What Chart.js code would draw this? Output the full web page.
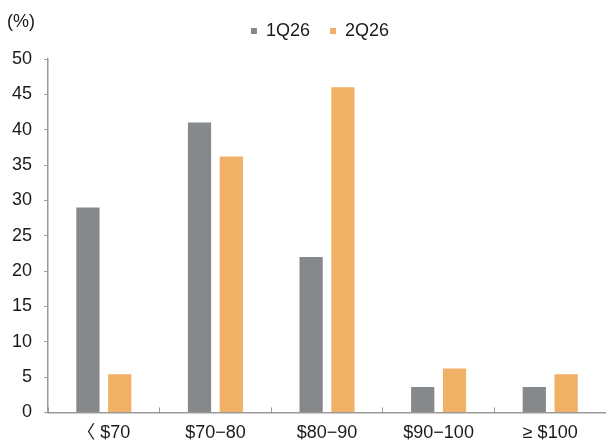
<!DOCTYPE html>
<html><head><meta charset="utf-8">
<script src="https://cdn.jsdelivr.net/npm/chart.js@4.4.1/dist/chart.umd.min.js"></script>
<style>
html,body{margin:0;padding:0;background:#fff;overflow:hidden;}
#wrap{position:relative;width:606px;height:459px;}
</style></head>
<body><div id="wrap"><canvas id="c"></canvas></div>
<script>
const categories = ["〈 $70", "$70−80", "$80−90", "$90−100", "≥ $100"];
const seriesNames = ["1Q26", "2Q26"];
const q1Values = [29, 41, 22, 3.6, 3.6];
const q2Values = [5.4, 36.2, 46, 6.2, 5.4];
const yTicks = [0, 5, 10, 15, 20, 25, 30, 35, 40, 45, 50];
const unitLabel = "(%)";

const FONT = "'Liberation Sans', 'Noto Sans CJK KR', sans-serif";
const GRAY = "#86898c";
const ORANGE = "#f0b166";
const AXIS = "#9a9a9a";
const TEXT = "#1a1a1a";

const unitPlugin = {
  id: 'unit',
  afterInit(chart) {
    const lg = chart.legend;
    if (lg) {
      const origFit = lg.fit;
      lg.fit = function () { origFit.call(this); this.height += 9; };
    }
  },
  afterLayout(chart) {
    chart.legend.left += 17;
    chart.legend.right += 17;
  },
  afterDraw(chart) {
    const ctx = chart.ctx;
    ctx.save();
    ctx.font = "18px " + FONT;
    ctx.fillStyle = TEXT;
    ctx.textAlign = 'left';
    ctx.textBaseline = 'middle';
    ctx.fillText(unitLabel, 7, chart.chartArea.top - 37);
    ctx.restore();
  }
};

new Chart(document.getElementById('c'), {
  type: 'bar',
  data: {
    labels: categories,
    datasets: [
      { label: seriesNames[0], data: q1Values, backgroundColor: GRAY },
      { label: seriesNames[1], data: q2Values, backgroundColor: ORANGE }
    ]
  },
  options: {
    responsive: true,
    maintainAspectRatio: false,
    animation: false,
    datasets: { bar: { categoryPercentage: 0.57, barPercentage: 0.73 } },
    layout: { padding: { top: 2, left: 0, right: 0, bottom: 0 } },
    plugins: {
      legend: {
        position: 'top',
        align: 'center',
        labels: {
          boxWidth: 6, boxHeight: 6, padding: 20,
          color: TEXT,
          font: { family: FONT, size: 18 }
        }
      },
      tooltip: { enabled: false }
    },
    scales: {
      x: {
        grid: { display: true, drawOnChartArea: false, drawTicks: true, tickLength: -5, color: AXIS, offset: true },
        border: { display: true, color: AXIS, width: 1.5 },
        ticks: { color: TEXT, font: { family: FONT, size: 18 }, padding: 15, maxRotation: 0 }
      },
      y: {
        min: 0, max: 50,
        afterBuildTicks(scale) { scale.ticks = yTicks.map(v => ({ value: v })); },
        grid: { display: true, drawOnChartArea: false, drawTicks: true, tickLength: 4, color: AXIS },
        border: { display: true, color: AXIS, width: 1.5 },
        ticks: { color: TEXT, font: { family: FONT, size: 18 }, padding: 12 }
      }
    }
  },
  plugins: [unitPlugin]
});
</script></body></html>
